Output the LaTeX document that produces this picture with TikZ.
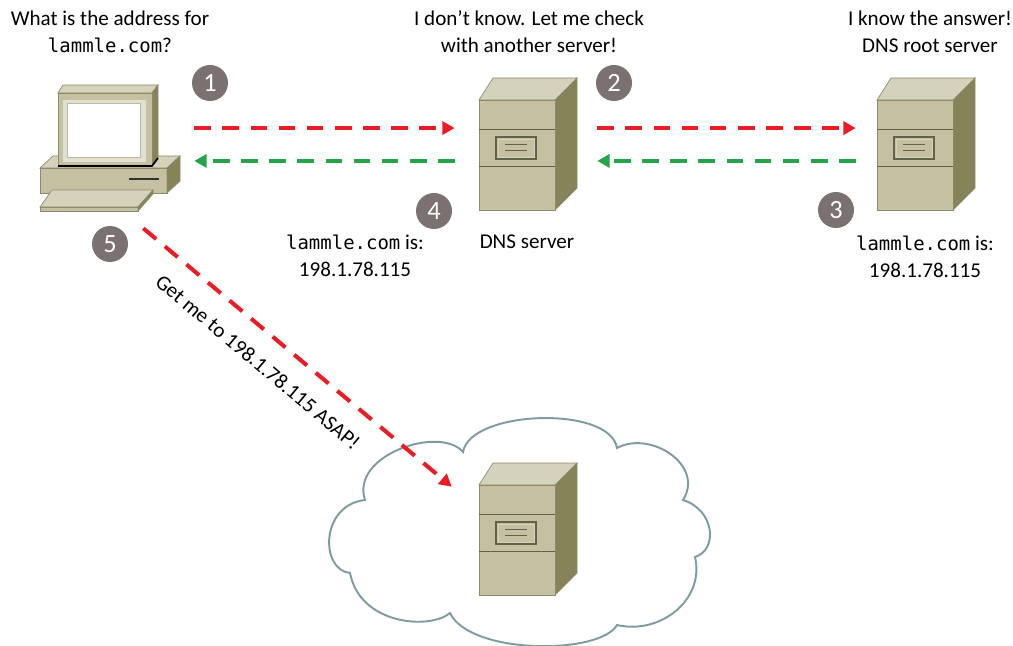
\documentclass[tikz,border=0pt]{standalone}
\usepackage{fontspec}
\setmainfont{Carlito}
\setmonofont{DejaVu Sans Mono}[Scale=0.9]
\usetikzlibrary{positioning,arrows.meta,calc}

\definecolor{boxfront}{HTML}{C4C0A1}
\definecolor{boxtop}{HTML}{D4D2BC}
\definecolor{boxside}{HTML}{868359}
\definecolor{boxedge}{HTML}{8E8B68}
\definecolor{reqred}{HTML}{EC1C24}
\definecolor{ansgreen}{HTML}{23A548}
\definecolor{dotgray}{HTML}{7A7170}
\definecolor{cloudline}{HTML}{7C9CA2}

\begin{document}
\begin{tikzpicture}[
          x=0.02cm, y=-0.02cm,
          lbl/.style={font=\fontsize{12}{15.5}\selectfont, align=center, inner sep=0},
          numdot/.style={circle, fill=dotgray, text=white, minimum size=0.72cm, inner sep=0, font=\fontsize{15}{15}\selectfont},
          devbox/.style={inner sep=0, minimum width=2.84cm, minimum height=2.6cm},
          req/.style={reqred, line width=2.3pt, dash pattern=on 9.5pt off 6.5pt, -{Triangle[length=7pt,width=7.5pt]}},
          ans/.style={ansgreen, line width=2.3pt, dash pattern=on 9.5pt off 6.5pt, -{Triangle[length=7pt,width=7.5pt]}},
          srvtower/.pic={
            \draw[boxedge, fill=boxtop] (0,0) -- (14,-22) -- (98,-22) -- (76,0) -- cycle;
            \draw[boxedge, fill=boxside] (76,0) -- (98,-22) -- (98,88) -- (76,110) -- cycle;
            \draw[boxedge, fill=boxfront] (0,0) rectangle (76,110);
            \draw[boxedge!70!black] (0,29) -- (76,29) (0,66) -- (76,66);
            \draw[boxedge!70!black, line width=0.8pt] (17,37) rectangle (57,59);
            \draw[boxtop] (19,39) rectangle (55,57);
            \draw[boxedge!70!black] (26,44) -- (48,44) (26,50) -- (48,50);
          }
      ]
        \useasboundingbox (0,0) rectangle (1013,645);

        % cloud behind the web server
        \draw[cloudline, line width=1.1pt, fill=white] (365,500)
          .. controls (350,455) and (440,425) .. (463,452)
          .. controls (470,410) and (610,405) .. (617,448)
          .. controls (650,430) and (705,465) .. (683,500)
          .. controls (715,510) and (718,550) .. (695,557)
          .. controls (705,600) and (660,635) .. (617,625)
          .. controls (600,655) and (470,655) .. (450,613)
          .. controls (430,630) and (360,625) .. (350,573)
          .. controls (320,570) and (320,505) .. (365,500) -- cycle;

        % servers
        \pic at (479,100) {srvtower};
        \pic at (877,100) {srvtower};
        \pic at (479,485) {srvtower};

        % workstation: base, monitor, keyboard
        \draw[boxedge, fill=boxtop] (40,168) -- (53,156) -- (180,156) -- (167,168) -- cycle;
        \draw[boxedge, fill=boxfront] (40,168) rectangle (167,193);
        \draw[boxedge, fill=boxside] (167,168) -- (180,156) -- (180,181) -- (167,193) -- cycle;
        \draw[black!80, line width=1.2pt] (129,179) -- (159,179);
        \draw[boxedge, fill=boxtop] (58,93) -- (63,85) -- (158,85) -- (152,93) -- cycle;
        \draw[boxedge, fill=boxside] (152,93) -- (158,85) -- (158,158) -- (152,166) -- cycle;
        \draw[boxedge, fill=boxfront] (58,93) rectangle (152,166);
        \draw[black, line width=1pt] (58,166) -- (152,166) -- (158,158);
        \draw[boxtop!70!white, fill=boxtop!70!white] (63,100) rectangle (145,161);
        \draw[boxedge!60, fill=white] (67,103) rectangle (140,157);
        \draw[boxedge, fill=boxtop] (52,190) -- (153,190) -- (138,207) -- (40,207) -- cycle;
        \draw[boxedge, fill=boxfront] (40,207) rectangle (138,211);
        \draw[boxedge, fill=boxside] (138,207) -- (153,190) -- (153,194) -- (138,211) -- cycle;

        % hit areas for the connectors
        \node[devbox, minimum width=3.08cm] (pc) at (117,144.5) {};
        \node[devbox] (dns) at (526,144.5) {};
        \node[devbox] (root) at (927,144.5) {};
        \node[devbox, minimum width=2.4cm, minimum height=2.8cm] (web) at (528,528) {};

        \draw[req] ([yshift=9.35pt]pc.east) -- ([yshift=9.35pt]dns.west);
        \draw[ans] ([yshift=-9.35pt]dns.west) -- ([yshift=-9.35pt]pc.east);
        \draw[req] ([yshift=9.35pt]dns.east) -- ([yshift=9.35pt]root.west);
        \draw[ans] ([yshift=-9.35pt]root.west) -- ([yshift=-9.35pt]dns.east);
        \draw[req] ([xshift=-1.02cm,yshift=-0.37cm]pc.south east) -- ([xshift=-0.32cm,yshift=-0.58cm]web.north west);

        % labels
        \node[lbl] (q1) at (110,32) {What is the address for\\\texttt{lammle.com}?};
        \node[lbl] (q2) at (529,32) {I don't know. Let me check\\with another server!};
        \node[lbl] (q3) at (930,32) {I know the answer!\\DNS root server};
        \node[lbl] (a4) at (355,256) {\texttt{lammle.com} is:\\198.1.78.115};
        \node[lbl] (dnslbl) at (527,242) {DNS server};
        \node[lbl] (a3) at (925,257) {\texttt{lammle.com} is:\\198.1.78.115};
        \node[lbl, rotate=-40] (ask) at (258,362) {Get me to 198.1.78.115 ASAP!};

        % step numbers
        \node[numdot] (n1) at (210,83) {1};
        \node[numdot] (n2) at (614,83) {2};
        \node[numdot] (n3) at (836,210) {3};
        \node[numdot] (n4) at (434,211) {4};
        \node[numdot] (n5) at (110,244) {5};
      \end{tikzpicture}
\end{document}
